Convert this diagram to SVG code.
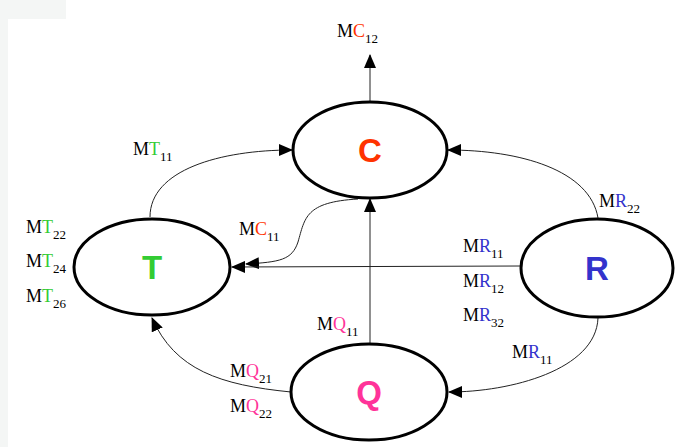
<svg xmlns="http://www.w3.org/2000/svg" width="680" height="447" viewBox="0 0 680 447">
<style>
.node{fill:#fff;stroke:#000;stroke-width:3}
.nl{font-family:"Liberation Sans",Arial,sans-serif;font-weight:bold;font-size:33px;text-anchor:middle}
.c{fill:none;stroke:#222;stroke-width:1}
.lb{font-family:"Liberation Serif","Times New Roman",serif;font-size:18px;fill:#000}
.sub{font-size:13px}
.T{fill:#33cc33}.C{fill:#ff3300}.R{fill:#3333cc}.Q{fill:#ff3399}
</style>
<defs>
<marker id="ah" markerUnits="userSpaceOnUse" markerWidth="14" markerHeight="12" refX="13" refY="6" orient="auto">
<path d="M0,0 L14,6 L0,12 Z" fill="#000"/>
</marker>
</defs>
<rect width="680" height="447" fill="#fff"/>
<rect x="0" y="0" width="66" height="19" fill="#f4f6f5"/>
<rect x="0" y="0" width="8" height="447" fill="#f4f6f5"/>
<g id="connectors">
<path class="c" d="M370,101 L370,55" marker-end="url(#ah)"/>
<path class="c" d="M150,217 C150,170 220,150 292,150" marker-end="url(#ah)"/>
<path class="c" d="M358,199 C305,202 305,218 298,242 C292,260 280,262 246,264" marker-end="url(#ah)"/>
<path class="c" d="M521,266 L232,267" marker-end="url(#ah)"/>
<path class="c" d="M370,343 L370,199" marker-end="url(#ah)"/>
<path class="c" d="M598,218 C590,170 520,150 448,150" marker-end="url(#ah)"/>
<path class="c" d="M598,318 C596,370 510,392 449,392" marker-end="url(#ah)"/>
<path class="c" d="M291,392 C220,385 175,370 152,318" marker-end="url(#ah)"/>
</g>
<g id="node-C"><ellipse class="node" cx="370" cy="150" rx="77" ry="48"/><text class="nl C" x="370" y="162">C</text></g>
<g id="node-T"><ellipse class="node" cx="152" cy="267" rx="78" ry="48"/><text class="nl T" x="152" y="279">T</text></g>
<g id="node-R"><ellipse class="node" cx="597" cy="268" rx="76" ry="49"/><text class="nl R" x="597" y="280">R</text></g>
<g id="node-Q"><ellipse class="node" cx="369" cy="392" rx="78" ry="48"/><text class="nl Q" x="369" y="404">Q</text></g>
<g id="labels">
<text class="lb" x="337" y="37">M<tspan class="C">C</tspan><tspan class="sub" dy="6">12</tspan></text>
<text class="lb" x="133" y="155">M<tspan class="T">T</tspan><tspan class="sub" dy="6">11</tspan></text>
<text class="lb" x="239" y="235">M<tspan class="C">C</tspan><tspan class="sub" dy="6">11</tspan></text>
<text class="lb" x="26" y="233">M<tspan class="T">T</tspan><tspan class="sub" dy="6">22</tspan></text>
<text class="lb" x="26" y="267">M<tspan class="T">T</tspan><tspan class="sub" dy="6">24</tspan></text>
<text class="lb" x="26" y="302">M<tspan class="T">T</tspan><tspan class="sub" dy="6">26</tspan></text>
<text class="lb" x="463" y="252">M<tspan class="R">R</tspan><tspan class="sub" dy="6">11</tspan></text>
<text class="lb" x="463" y="287">M<tspan class="R">R</tspan><tspan class="sub" dy="6">12</tspan></text>
<text class="lb" x="463" y="321">M<tspan class="R">R</tspan><tspan class="sub" dy="6">32</tspan></text>
<text class="lb" x="599" y="207">M<tspan class="R">R</tspan><tspan class="sub" dy="6">22</tspan></text>
<text class="lb" x="512" y="358">M<tspan class="R">R</tspan><tspan class="sub" dy="6">11</tspan></text>
<text class="lb" x="317" y="330">M<tspan class="Q">Q</tspan><tspan class="sub" dy="6">11</tspan></text>
<text class="lb" x="230" y="377">M<tspan class="Q">Q</tspan><tspan class="sub" dy="6">21</tspan></text>
<text class="lb" x="230" y="412">M<tspan class="Q">Q</tspan><tspan class="sub" dy="6">22</tspan></text>
</g>
</svg>
